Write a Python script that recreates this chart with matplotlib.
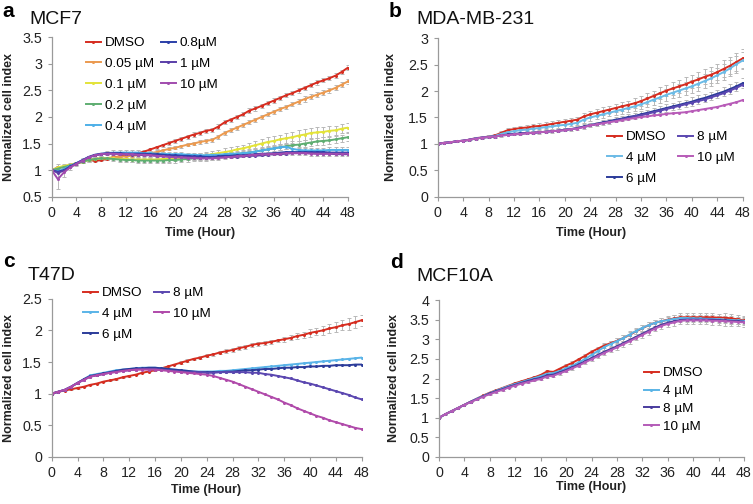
import matplotlib
matplotlib.use('Agg')
import matplotlib.pyplot as plt

plt.rcParams['font.family'] = ['Liberation Sans', 'DejaVu Sans']

hours = list(range(49))

# ---------- a: MCF7 ----------
a_labels = ['DMSO', '0.05 µM', '0.1 µM', '0.2 µM', '0.4 µM', '0.8µM', '1 µM', '10 µM']
a_colors = ['#d62d20', '#eb9a50', '#e3e33a', '#5fae72', '#4fb0e8', '#2b3fa8', '#5a3ea8', '#a14cae']
a_dmso = [1.00, 1.05, 1.06, 1.09, 1.12, 1.16, 1.20, 1.17, 1.19, 1.21,
          1.24, 1.26, 1.28, 1.30, 1.32, 1.35, 1.39, 1.43, 1.47, 1.51,
          1.55, 1.59, 1.63, 1.67, 1.70, 1.74, 1.76, 1.82, 1.90, 1.95,
          2.00, 2.05, 2.12, 2.16, 2.21, 2.26, 2.31, 2.36, 2.41, 2.45,
          2.50, 2.55, 2.60, 2.65, 2.69, 2.73, 2.78, 2.85, 2.93]
a_005 = [1.00, 1.04, 1.07, 1.10, 1.13, 1.17, 1.20, 1.21, 1.22, 1.23,
         1.24, 1.25, 1.26, 1.27, 1.28, 1.30, 1.32, 1.34, 1.37, 1.40,
         1.42, 1.45, 1.48, 1.50, 1.53, 1.55, 1.57, 1.63, 1.70, 1.75,
         1.80, 1.85, 1.90, 1.95, 2.00, 2.05, 2.10, 2.15, 2.19, 2.24,
         2.29, 2.34, 2.38, 2.42, 2.46, 2.50, 2.55, 2.61, 2.67]
a_01 = [1.00, 1.05, 1.08, 1.10, 1.13, 1.16, 1.19, 1.21, 1.22, 1.22,
        1.22, 1.21, 1.21, 1.20, 1.20, 1.20, 1.20, 1.20, 1.21, 1.21,
        1.22, 1.23, 1.24, 1.25, 1.26, 1.28, 1.30, 1.32, 1.34, 1.36,
        1.39, 1.41, 1.44, 1.47, 1.50, 1.53, 1.55, 1.58, 1.60, 1.62,
        1.65, 1.67, 1.70, 1.71, 1.72, 1.74, 1.75, 1.78, 1.80]
a_02 = [1.00, 1.03, 1.06, 1.09, 1.12, 1.16, 1.19, 1.21, 1.22, 1.22,
        1.21, 1.20, 1.19, 1.19, 1.18, 1.18, 1.18, 1.18, 1.18, 1.19,
        1.19, 1.20, 1.21, 1.22, 1.22, 1.23, 1.24, 1.26, 1.27, 1.28,
        1.30, 1.32, 1.33, 1.35, 1.37, 1.39, 1.41, 1.43, 1.45, 1.47,
        1.48, 1.50, 1.52, 1.54, 1.55, 1.56, 1.58, 1.60, 1.62]
a_04 = [1.00, 0.98, 1.02, 1.08, 1.13, 1.19, 1.24, 1.28, 1.30, 1.32,
        1.33, 1.33, 1.33, 1.33, 1.33, 1.32, 1.32, 1.31, 1.31, 1.30,
        1.30, 1.30, 1.29, 1.29, 1.28, 1.28, 1.29, 1.29, 1.30, 1.31,
        1.31, 1.32, 1.33, 1.35, 1.37, 1.39, 1.41, 1.43, 1.44, 1.40,
        1.38, 1.37, 1.37, 1.37, 1.37, 1.38, 1.38, 1.38, 1.38]
a_08 = [1.00, 0.97, 1.00, 1.07, 1.13, 1.19, 1.25, 1.29, 1.31, 1.32,
        1.32, 1.32, 1.31, 1.31, 1.31, 1.31, 1.30, 1.30, 1.29, 1.28,
        1.28, 1.27, 1.27, 1.26, 1.26, 1.25, 1.25, 1.26, 1.27, 1.27,
        1.28, 1.28, 1.29, 1.30, 1.31, 1.31, 1.32, 1.33, 1.34, 1.34,
        1.34, 1.34, 1.34, 1.34, 1.34, 1.33, 1.33, 1.33, 1.33]
a_1 = [1.00, 0.95, 0.99, 1.06, 1.12, 1.18, 1.24, 1.28, 1.30, 1.31,
       1.31, 1.30, 1.30, 1.29, 1.29, 1.28, 1.28, 1.27, 1.26, 1.26,
       1.25, 1.25, 1.24, 1.24, 1.23, 1.23, 1.23, 1.24, 1.24, 1.25,
       1.25, 1.26, 1.27, 1.27, 1.28, 1.29, 1.30, 1.30, 1.31, 1.32,
       1.32, 1.32, 1.32, 1.31, 1.31, 1.31, 1.30, 1.30, 1.30]
a_10 = [1.00, 0.83, 0.96, 1.05, 1.12, 1.18, 1.24, 1.28, 1.30, 1.31,
        1.31, 1.30, 1.30, 1.30, 1.29, 1.29, 1.28, 1.27, 1.26, 1.25,
        1.24, 1.24, 1.23, 1.23, 1.22, 1.22, 1.22, 1.23, 1.24, 1.25,
        1.26, 1.27, 1.28, 1.29, 1.30, 1.30, 1.31, 1.31, 1.32, 1.32,
        1.32, 1.32, 1.31, 1.31, 1.31, 1.31, 1.31, 1.31, 1.31]
a_dmso_err = [0.00, 0.03, 0.02, 0.02, 0.02, 0.02, 0.02, 0.02, 0.02, 0.02,
              0.02, 0.02, 0.02, 0.02, 0.02, 0.03, 0.03, 0.03, 0.03, 0.04,
              0.04, 0.04, 0.04, 0.04, 0.04, 0.04, 0.04, 0.04, 0.04, 0.04,
              0.04, 0.04, 0.04, 0.04, 0.04, 0.04, 0.04, 0.04, 0.04, 0.04,
              0.04, 0.04, 0.04, 0.04, 0.04, 0.04, 0.04, 0.04, 0.04]
a_005_err = [0.00, 0.04, 0.03, 0.02, 0.02, 0.02, 0.02, 0.02, 0.02, 0.02,
             0.02, 0.02, 0.03, 0.03, 0.03, 0.03, 0.03, 0.03, 0.03, 0.03,
             0.03, 0.03, 0.03, 0.03, 0.03, 0.03, 0.04, 0.04, 0.04, 0.04,
             0.04, 0.04, 0.04, 0.04, 0.04, 0.04, 0.04, 0.04, 0.04, 0.04,
             0.05, 0.05, 0.05, 0.05, 0.05, 0.05, 0.05, 0.05, 0.05]
a_01_err = [0.00, 0.06, 0.04, 0.03, 0.03, 0.03, 0.03, 0.03, 0.03, 0.03,
            0.03, 0.03, 0.03, 0.04, 0.04, 0.04, 0.04, 0.04, 0.05, 0.05,
            0.05, 0.05, 0.05, 0.05, 0.06, 0.06, 0.06, 0.06, 0.07, 0.07,
            0.07, 0.07, 0.08, 0.08, 0.08, 0.09, 0.09, 0.09, 0.10, 0.10,
            0.10, 0.10, 0.10, 0.10, 0.10, 0.09, 0.09, 0.09, 0.09]
a_02_err = [0.00, 0.05, 0.04, 0.03, 0.03, 0.03, 0.03, 0.03, 0.03, 0.03,
            0.04, 0.04, 0.04, 0.04, 0.04, 0.04, 0.05, 0.05, 0.05, 0.05,
            0.05, 0.05, 0.05, 0.05, 0.05, 0.05, 0.05, 0.05, 0.05, 0.06,
            0.06, 0.06, 0.06, 0.06, 0.06, 0.06, 0.06, 0.06, 0.06, 0.07,
            0.07, 0.07, 0.07, 0.07, 0.07, 0.07, 0.07, 0.07, 0.07]
a_04_err = [0.00, 0.04, 0.03, 0.03, 0.03, 0.03, 0.03, 0.03, 0.03, 0.04,
            0.04, 0.04, 0.04, 0.04, 0.04, 0.04, 0.04, 0.04, 0.04, 0.04,
            0.04, 0.04, 0.04, 0.04, 0.04, 0.04, 0.04, 0.04, 0.04, 0.04,
            0.04, 0.04, 0.04, 0.04, 0.04, 0.05, 0.05, 0.05, 0.05, 0.05,
            0.05, 0.05, 0.05, 0.05, 0.05, 0.05, 0.05, 0.05, 0.05]
a_10_err = [0.00, 0.18, 0.08, 0.05, 0.04, 0.03, 0.03, 0.03, 0.03, 0.03,
            0.03, 0.03, 0.03, 0.03, 0.03, 0.03, 0.03, 0.03, 0.03, 0.03,
            0.03, 0.03, 0.03, 0.03, 0.03, 0.03, 0.03, 0.03, 0.03, 0.03,
            0.03, 0.03, 0.03, 0.03, 0.03, 0.03, 0.03, 0.03, 0.03, 0.03,
            0.04, 0.04, 0.04, 0.04, 0.04, 0.04, 0.04, 0.04, 0.04]

# ---------- b: MDA-MB-231 ----------
b_labels = ['DMSO', '4 µM', '6 µM', '8 µM', '10 µM']
b_colors = ['#d62d20', '#6cbbe6', '#2c3c9a', '#5b47b0', '#b85cb8']
b_dmso = [1.00, 1.02, 1.03, 1.05, 1.06, 1.08, 1.11, 1.12, 1.14, 1.16,
          1.21, 1.26, 1.28, 1.30, 1.31, 1.33, 1.34, 1.36, 1.38, 1.40,
          1.42, 1.44, 1.46, 1.52, 1.56, 1.59, 1.62, 1.65, 1.68, 1.71,
          1.74, 1.77, 1.81, 1.86, 1.91, 1.96, 2.01, 2.05, 2.09, 2.13,
          2.18, 2.22, 2.27, 2.31, 2.36, 2.42, 2.48, 2.55, 2.62]
b_4 = [1.00, 1.02, 1.03, 1.05, 1.06, 1.08, 1.11, 1.12, 1.14, 1.15,
       1.19, 1.22, 1.24, 1.26, 1.27, 1.29, 1.30, 1.32, 1.33, 1.35,
       1.36, 1.38, 1.40, 1.46, 1.50, 1.53, 1.56, 1.59, 1.62, 1.65,
       1.68, 1.71, 1.75, 1.79, 1.84, 1.88, 1.93, 1.97, 2.01, 2.05,
       2.09, 2.14, 2.19, 2.24, 2.30, 2.36, 2.43, 2.51, 2.58]
b_6 = [1.00, 1.02, 1.03, 1.05, 1.06, 1.08, 1.10, 1.12, 1.13, 1.14,
       1.16, 1.18, 1.19, 1.20, 1.21, 1.21, 1.22, 1.23, 1.24, 1.25,
       1.27, 1.28, 1.30, 1.33, 1.36, 1.38, 1.41, 1.43, 1.46, 1.48,
       1.51, 1.53, 1.56, 1.59, 1.62, 1.65, 1.68, 1.71, 1.74, 1.77,
       1.80, 1.84, 1.87, 1.91, 1.95, 1.99, 2.04, 2.09, 2.15]
b_8 = [1.00, 1.02, 1.03, 1.05, 1.06, 1.08, 1.10, 1.12, 1.13, 1.14,
       1.16, 1.17, 1.18, 1.19, 1.20, 1.21, 1.22, 1.23, 1.24, 1.25,
       1.26, 1.28, 1.30, 1.32, 1.35, 1.37, 1.40, 1.42, 1.44, 1.47,
       1.49, 1.52, 1.54, 1.57, 1.60, 1.63, 1.66, 1.69, 1.72, 1.75,
       1.78, 1.81, 1.84, 1.88, 1.92, 1.96, 2.01, 2.06, 2.12]
b_10 = [1.00, 1.02, 1.03, 1.05, 1.06, 1.08, 1.10, 1.12, 1.13, 1.14,
        1.16, 1.17, 1.18, 1.19, 1.20, 1.21, 1.22, 1.23, 1.24, 1.25,
        1.26, 1.28, 1.29, 1.32, 1.35, 1.37, 1.39, 1.41, 1.43, 1.45,
        1.47, 1.49, 1.51, 1.52, 1.54, 1.55, 1.57, 1.58, 1.59, 1.60,
        1.62, 1.64, 1.66, 1.68, 1.70, 1.73, 1.76, 1.79, 1.83]
b_dmso_err = [0.00, 0.01, 0.01, 0.01, 0.01, 0.02, 0.02, 0.02, 0.02, 0.03,
              0.04, 0.04, 0.04, 0.04, 0.05, 0.05, 0.05, 0.05, 0.05, 0.05,
              0.05, 0.05, 0.05, 0.06, 0.06, 0.07, 0.07, 0.07, 0.08, 0.08,
              0.08, 0.09, 0.09, 0.10, 0.10, 0.11, 0.11, 0.12, 0.12, 0.13,
              0.13, 0.14, 0.14, 0.15, 0.15, 0.16, 0.16, 0.17, 0.18]
b_4_err = [0.00, 0.01, 0.01, 0.01, 0.01, 0.02, 0.02, 0.02, 0.02, 0.03,
           0.03, 0.04, 0.04, 0.04, 0.04, 0.04, 0.04, 0.04, 0.05, 0.05,
           0.05, 0.05, 0.05, 0.06, 0.06, 0.06, 0.07, 0.07, 0.07, 0.08,
           0.08, 0.08, 0.09, 0.09, 0.10, 0.10, 0.11, 0.11, 0.12, 0.12,
           0.12, 0.13, 0.13, 0.14, 0.14, 0.15, 0.15, 0.16, 0.16]
b_6_err = [0.00, 0.01, 0.01, 0.01, 0.01, 0.01, 0.02, 0.02, 0.02, 0.02,
           0.02, 0.02, 0.02, 0.03, 0.03, 0.03, 0.03, 0.03, 0.03, 0.03,
           0.03, 0.03, 0.04, 0.04, 0.04, 0.04, 0.05, 0.05, 0.05, 0.05,
           0.05, 0.05, 0.06, 0.06, 0.06, 0.06, 0.07, 0.07, 0.07, 0.07,
           0.08, 0.08, 0.08, 0.08, 0.08, 0.09, 0.09, 0.09, 0.10]

# ---------- c: T47D ----------
c_labels = ['DMSO', '4 µM', '6 µM', '8 µM', '10 µM']
c_colors = ['#d62d20', '#5ab4e8', '#2c3c9a', '#5b47b0', '#b04aaa']
c_dmso = [1.00, 1.03, 1.05, 1.07, 1.09, 1.11, 1.14, 1.16, 1.19, 1.21,
          1.23, 1.26, 1.28, 1.30, 1.33, 1.35, 1.37, 1.40, 1.43, 1.46,
          1.49, 1.52, 1.55, 1.57, 1.60, 1.62, 1.65, 1.67, 1.69, 1.72,
          1.74, 1.77, 1.79, 1.80, 1.82, 1.84, 1.86, 1.88, 1.91, 1.93,
          1.96, 1.98, 2.00, 2.03, 2.05, 2.08, 2.10, 2.13, 2.16]
c_4 = [1.00, 1.03, 1.06, 1.11, 1.17, 1.23, 1.29, 1.31, 1.33, 1.35,
       1.37, 1.38, 1.39, 1.40, 1.41, 1.41, 1.41, 1.40, 1.39, 1.38,
       1.37, 1.36, 1.35, 1.35, 1.35, 1.35, 1.36, 1.36, 1.37, 1.38,
       1.39, 1.40, 1.41, 1.42, 1.43, 1.44, 1.45, 1.46, 1.47, 1.48,
       1.49, 1.50, 1.51, 1.52, 1.53, 1.54, 1.55, 1.56, 1.57]
c_6 = [1.00, 1.03, 1.06, 1.11, 1.17, 1.23, 1.28, 1.30, 1.32, 1.34,
       1.36, 1.38, 1.39, 1.40, 1.40, 1.41, 1.41, 1.40, 1.39, 1.38,
       1.37, 1.36, 1.35, 1.34, 1.34, 1.34, 1.34, 1.35, 1.35, 1.36,
       1.37, 1.37, 1.38, 1.39, 1.39, 1.40, 1.41, 1.41, 1.42, 1.42,
       1.43, 1.43, 1.44, 1.44, 1.45, 1.45, 1.45, 1.46, 1.46]
c_8 = [1.00, 1.03, 1.06, 1.11, 1.17, 1.22, 1.27, 1.29, 1.31, 1.33,
       1.35, 1.36, 1.37, 1.38, 1.39, 1.39, 1.39, 1.38, 1.37, 1.36,
       1.35, 1.34, 1.34, 1.34, 1.33, 1.33, 1.34, 1.34, 1.34, 1.34,
       1.34, 1.33, 1.33, 1.31, 1.30, 1.28, 1.26, 1.24, 1.21, 1.18,
       1.16, 1.13, 1.10, 1.07, 1.04, 1.01, 0.98, 0.94, 0.91]
c_10 = [1.00, 1.03, 1.06, 1.11, 1.17, 1.22, 1.27, 1.29, 1.31, 1.33,
        1.34, 1.36, 1.37, 1.38, 1.38, 1.38, 1.38, 1.37, 1.36, 1.35,
        1.34, 1.33, 1.32, 1.31, 1.30, 1.28, 1.25, 1.22, 1.19, 1.15,
        1.11, 1.07, 1.03, 0.99, 0.95, 0.91, 0.86, 0.82, 0.77, 0.73,
        0.69, 0.65, 0.62, 0.58, 0.55, 0.52, 0.49, 0.46, 0.44]
c_dmso_err = [0.00, 0.01, 0.01, 0.01, 0.01, 0.01, 0.01, 0.01, 0.01, 0.01,
              0.01, 0.01, 0.01, 0.01, 0.01, 0.01, 0.01, 0.01, 0.01, 0.01,
              0.02, 0.02, 0.02, 0.02, 0.02, 0.03, 0.03, 0.03, 0.03, 0.03,
              0.03, 0.03, 0.03, 0.03, 0.03, 0.03, 0.04, 0.04, 0.05, 0.05,
              0.06, 0.06, 0.07, 0.07, 0.08, 0.08, 0.09, 0.09, 0.09]

# ---------- d: MCF10A ----------
d_labels = ['DMSO', '4 µM', '8 µM', '10 µM']
d_colors = ['#d62d20', '#5ab4e6', '#4a3c9e', '#b45cb8']
d_dmso = [1.00, 1.09, 1.17, 1.25, 1.33, 1.41, 1.49, 1.57, 1.64, 1.70,
          1.76, 1.82, 1.88, 1.93, 1.98, 2.03, 2.09, 2.18, 2.17, 2.25,
          2.33, 2.40, 2.49, 2.58, 2.68, 2.76, 2.84, 2.90, 2.96, 3.03,
          3.11, 3.20, 3.28, 3.36, 3.42, 3.46, 3.50, 3.53, 3.56, 3.56,
          3.56, 3.56, 3.56, 3.56, 3.55, 3.55, 3.53, 3.51, 3.48]
d_4 = [1.00, 1.09, 1.17, 1.25, 1.33, 1.41, 1.49, 1.56, 1.63, 1.69,
       1.75, 1.81, 1.86, 1.91, 1.96, 2.01, 2.06, 2.12, 2.14, 2.19,
       2.26, 2.33, 2.41, 2.50, 2.60, 2.70, 2.80, 2.88, 2.95, 3.03,
       3.12, 3.21, 3.29, 3.36, 3.42, 3.46, 3.49, 3.52, 3.54, 3.54,
       3.53, 3.53, 3.52, 3.52, 3.51, 3.50, 3.49, 3.48, 3.47]
d_8 = [1.00, 1.09, 1.17, 1.25, 1.33, 1.41, 1.48, 1.55, 1.62, 1.68,
       1.73, 1.79, 1.84, 1.89, 1.94, 1.98, 2.02, 2.08, 2.10, 2.16,
       2.22, 2.29, 2.36, 2.44, 2.52, 2.60, 2.68, 2.75, 2.82, 2.90,
       2.98, 3.06, 3.14, 3.22, 3.30, 3.37, 3.42, 3.46, 3.49, 3.50,
       3.50, 3.50, 3.50, 3.50, 3.49, 3.48, 3.47, 3.46, 3.45]
d_10 = [1.00, 1.09, 1.17, 1.25, 1.33, 1.40, 1.47, 1.54, 1.60, 1.66,
        1.71, 1.77, 1.82, 1.87, 1.91, 1.95, 1.99, 2.05, 2.07, 2.13,
        2.19, 2.26, 2.33, 2.41, 2.49, 2.57, 2.65, 2.72, 2.79, 2.87,
        2.95, 3.03, 3.11, 3.19, 3.27, 3.34, 3.39, 3.43, 3.47, 3.48,
        3.48, 3.48, 3.48, 3.47, 3.47, 3.46, 3.45, 3.44, 3.43]
d_dmso_err = [0.00, 0.01, 0.01, 0.01, 0.01, 0.01, 0.01, 0.02, 0.02, 0.02,
              0.02, 0.02, 0.02, 0.02, 0.02, 0.03, 0.03, 0.03, 0.03, 0.03,
              0.04, 0.04, 0.04, 0.05, 0.05, 0.05, 0.06, 0.06, 0.06, 0.07,
              0.07, 0.07, 0.08, 0.08, 0.08, 0.09, 0.09, 0.10, 0.10, 0.10,
              0.10, 0.10, 0.10, 0.10, 0.10, 0.11, 0.11, 0.11, 0.11]
d_4_err = [0.00, 0.01, 0.01, 0.01, 0.01, 0.01, 0.01, 0.01, 0.02, 0.02,
           0.02, 0.02, 0.02, 0.02, 0.02, 0.02, 0.03, 0.03, 0.03, 0.03,
           0.04, 0.04, 0.05, 0.05, 0.06, 0.06, 0.07, 0.07, 0.07, 0.08,
           0.08, 0.08, 0.08, 0.08, 0.08, 0.08, 0.08, 0.09, 0.09, 0.09,
           0.09, 0.09, 0.09, 0.09, 0.09, 0.09, 0.09, 0.09, 0.09]
d_10_err = [0.00, 0.01, 0.01, 0.01, 0.01, 0.01, 0.01, 0.01, 0.02, 0.02,
            0.02, 0.02, 0.02, 0.02, 0.02, 0.02, 0.03, 0.03, 0.03, 0.03,
            0.03, 0.04, 0.04, 0.04, 0.05, 0.05, 0.05, 0.05, 0.06, 0.06,
            0.06, 0.06, 0.07, 0.07, 0.07, 0.08, 0.08, 0.09, 0.09, 0.09,
            0.10, 0.10, 0.10, 0.10, 0.11, 0.11, 0.11, 0.11, 0.12]

W, H = 753, 504
fig = plt.figure(figsize=(W / 100, H / 100), dpi=100)


def px_axes(left, top, right, bottom):
    return fig.add_axes([left / W, 1 - bottom / H, (right - left) / W, (bottom - top) / H])


def style(ax, ymin, ymax, ystep):
    ax.set_xlim(0, 48)
    ax.set_ylim(ymin, ymax)
    ax.set_xticks(range(0, 49, 4))
    yt = []
    v = ymin
    while v <= ymax + 1e-9:
        yt.append(round(v, 2))
        v += ystep
    ax.set_yticks(yt)
    ax.set_yticklabels(['%g' % t for t in yt])
    for s in ['top', 'right']:
        ax.spines[s].set_visible(False)
    for s in ['left', 'bottom']:
        ax.spines[s].set_color('#9a9a9a')
        ax.spines[s].set_linewidth(0.9)
    ax.tick_params(axis='both', direction='out', length=3, width=0.8, color='#9a9a9a',
                   labelsize=10.3, labelcolor='#222222')
    ax.tick_params(axis='x', pad=3.5)
    ax.tick_params(axis='y', pad=4)
    ax.patch.set_alpha(0)


def draw(ax, labels, colors, values, errors):
    lines = []
    for lab, col, ys, err in zip(labels, colors, values, errors):
        if err is not None:
            ax.errorbar(hours, ys, yerr=err, fmt='none', ecolor='#b8b8b8', elinewidth=0.7,
                        capsize=1.6, capthick=0.7, zorder=1)
        ln, = ax.plot(hours, ys, color=col, lw=1.4, marker='o', ms=2.2, mew=0,
                      label=lab, zorder=2)
        lines.append(ln)
    return lines


def legend(ax, handles, x, y, ncol=1, spacing=0.62, colsp=0.8):
    lg = ax.legend(handles=handles, loc='upper left', bbox_to_anchor=(x / W, 1 - y / H),
                   bbox_transform=fig.transFigure, ncol=ncol, frameon=False, fontsize=9.7,
                   handlelength=1.1, handletextpad=0.3, labelspacing=spacing,
                   columnspacing=colsp, borderpad=0, borderaxespad=0)
    return lg


def texts(letter, lx, ly, title, tx, ty, ylx, yly, xlx, xly):
    fig.text(lx / W, 1 - ly / H, letter, fontsize=15, fontweight='bold', va='baseline')
    fig.text(tx / W, 1 - ty / H, title, fontsize=14, va='baseline', color='#111111')
    fig.text(ylx / W, 1 - yly / H, 'Normalized cell index', rotation=90, fontsize=9,
             fontweight='bold', ha='center', va='center', color='#222222')
    fig.text(xlx / W, 1 - xly / H, 'Time (Hour)', fontsize=9, fontweight='bold',
             ha='center', va='center', color='#222222')


# panel a
ax_a = px_axes(51.7, 37.3, 348, 196.7)
style(ax_a, 0.5, 3.5, 0.5)
la = draw(ax_a, a_labels, a_colors,
          [a_dmso, a_005, a_01, a_02, a_04, a_08, a_1, a_10],
          [a_dmso_err, a_005_err, a_01_err, a_02_err, a_04_err, None, None, a_10_err])
lg1 = legend(ax_a, la[:5], 86, 37)
ax_a.add_artist(lg1)
legend(ax_a, la[5:], 161, 37)
texts('a', 2, 17, 'MCF7', 29, 24, 9, 117, 200, 233)

# panel b
ax_b = px_axes(437.7, 38.3, 742.7, 196.7)
style(ax_b, 0, 3, 0.5)
lb = draw(ax_b, b_labels, b_colors, [b_dmso, b_4, b_6, b_8, b_10],
          [b_dmso_err, b_4_err, b_6_err, None, None])
legend(ax_b, lb, 607, 131, ncol=2, colsp=0.9)
texts('b', 389, 17, 'MDA-MB-231', 416, 24, 391, 117, 591, 233)

# panel c
ax_c = px_axes(51.7, 298.7, 361.7, 457)
style(ax_c, 0, 2.5, 0.5)
lc = draw(ax_c, c_labels, c_colors, [c_dmso, c_4, c_6, c_8, c_10],
          [c_dmso_err, None, None, None, None])
legend(ax_c, lc, 83, 287, ncol=2, colsp=0.9)
texts('c', 3, 267, 'T47D', 28, 280, 9, 378, 206, 490)

# panel d
ax_d = px_axes(439, 300, 744, 457)
style(ax_d, 0, 4, 0.5)
ld = draw(ax_d, d_labels, d_colors, [d_dmso, d_4, d_8, d_10],
          [d_dmso_err, d_4_err, None, d_10_err])
legend(ax_d, ld, 644, 367, spacing=0.4)
texts('d', 390, 268, 'MCF10A', 416, 281, 394, 378, 591, 487)

fig.savefig('out.png', dpi=100)
